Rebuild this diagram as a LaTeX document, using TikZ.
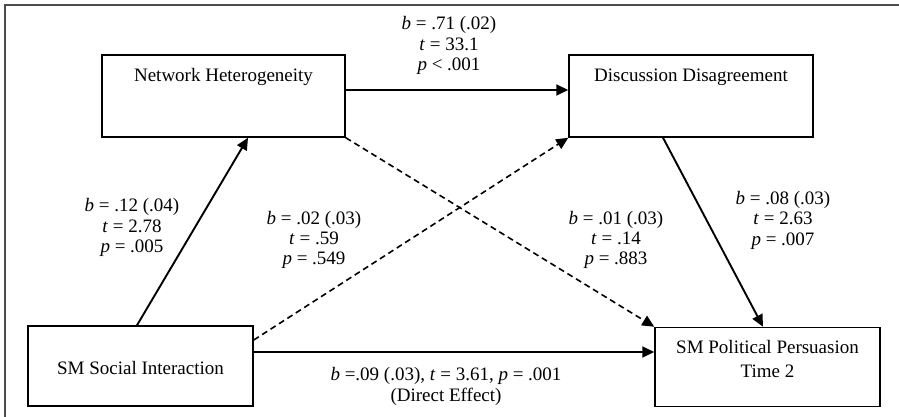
\documentclass[tikz,border=0pt]{standalone}
\usepackage{fontspec}
\setmainfont{Liberation Serif}
\usetikzlibrary{arrows.meta}
\begin{document}
\begin{tikzpicture}[x=1pt,y=-1pt,
  box/.style={draw, line width=1.5pt, inner sep=0pt},
  lbl/.style={font=\fontsize{19}{21}\selectfont, inner sep=0pt, anchor=base},
  arr/.style={line width=1.9pt, -{Triangle[length=12pt,width=11pt]}},
  dsh/.style={line width=1.6pt, -{Triangle[length=12pt,width=11pt]}, dash pattern=on 6pt off 4pt}
]
\useasboundingbox (0,0) rectangle (899,417);
\draw[line width=1.5pt, draw=black!70] (5,417) -- (5,5) -- (899,5);

% boxes
\node[box, minimum width=243pt, minimum height=82pt] (nh)  at (223.5,96) {};
\node[box, minimum width=244pt, minimum height=82pt] (dd)  at (691,96) {};
\node[box, minimum width=225pt, minimum height=80pt] (ssi) at (140.5,366) {};
\node[box, minimum width=225pt, minimum height=79pt] (spp) at (767.5,367) {};

% box texts
\node[lbl] (nht)  at (223.5,81.7) {Network Heterogeneity};
\node[lbl] (ddt)  at (691,81.7) {Discussion Disagreement};
\node[lbl] (ssit) at (140.5,374) {SM Social Interaction};
\node[lbl] (sppa) at (767.5,353.7) {SM Political Persuasion};
\node[lbl] (sppb) at (767.5,377) {Time 2};

% connectors
\draw[arr] ([yshift=6pt]nh.east) coordinate (h1) -- (h1 -| dd.west);
\draw[arr] ([xshift=-3.5pt]ssi.north) -- ([xshift=24.5pt]nh.south);
\draw[dsh] ([yshift=26pt]ssi.east) -- (dd.south west);
\draw[dsh] (nh.south east) -- (spp.north west);
\draw[arr] ([xshift=-28pt]dd.south) -- ([xshift=-4.5pt]spp.north);
\draw[arr] ([yshift=14pt]ssi.east) coordinate (s1) -- (s1 -| spp.west);

% labels: top
\node[lbl] (l1a) at (449,30) {\textit{b} = .71 (.02)};
\node[lbl] (l1b) at (449,50.5) {\textit{t} = 33.1};
\node[lbl] (l1c) at (449,71) {\textit{p} < .001};
% left
\node[lbl] (l2a) at (132,211.5) {\textit{b} = .12 (.04)};
\node[lbl] (l2b) at (132,232) {\textit{t} = 2.78};
\node[lbl] (l2c) at (132,252.5) {\textit{p} = .005};
% middle left
\node[lbl] (l3a) at (314,224) {\textit{b} = .02 (.03)};
\node[lbl] (l3b) at (314,244) {\textit{t} = .59};
\node[lbl] (l3c) at (314,264) {\textit{p} = .549};
% middle right
\node[lbl] (l4a) at (616,224) {\textit{b} = .01 (.03)};
\node[lbl] (l4b) at (616,244) {\textit{t} = .14};
\node[lbl] (l4c) at (616,264) {\textit{p} = .883};
% right
\node[lbl] (l5a) at (783,204) {\textit{b} = .08 (.03)};
\node[lbl] (l5b) at (783,224.5) {\textit{t} = 2.63};
\node[lbl] (l5c) at (783,245) {\textit{p} = .007};
% bottom
\node[lbl] (l6a) at (446,380.5) {\textit{b} =.09 (.03), \textit{t} = 3.61, \textit{p} = .001};
\node[lbl] (l6b) at (446,401) {(Direct Effect)};
\end{tikzpicture}
\end{document}
